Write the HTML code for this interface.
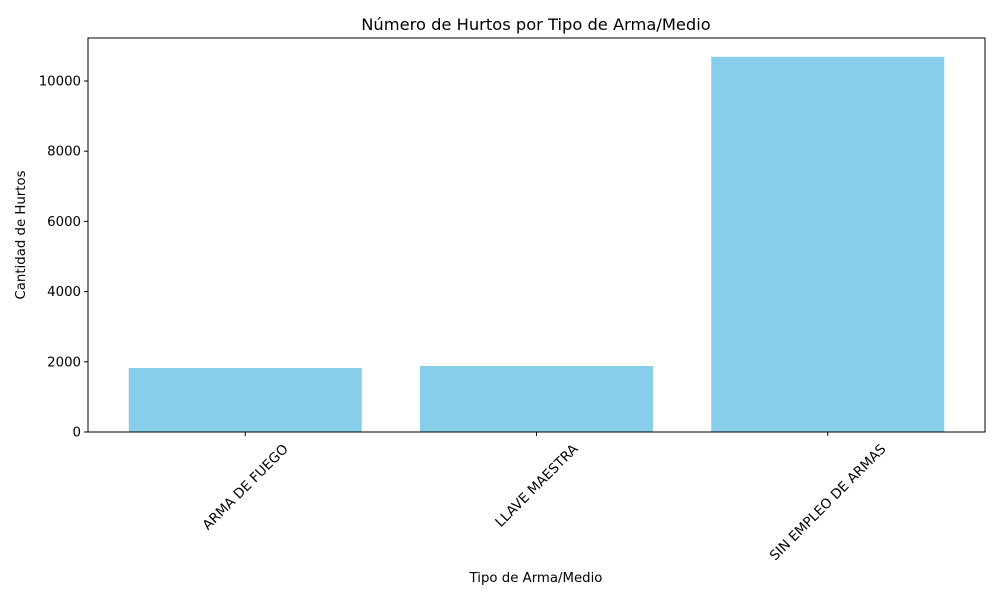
<!DOCTYPE html>
<html><head><meta charset="utf-8"><style>
body{margin:0;background:#fff;font-family:"Liberation Sans","DejaVu Sans",sans-serif;}
svg text{font-family:"DejaVu Sans","Liberation Sans",sans-serif;fill:#000;}
</style></head><body>
<svg id="chart" width="1000" height="600" xmlns="http://www.w3.org/2000/svg">
<rect width="1000" height="600" fill="#fff"/>
<text x="536" y="30" font-size="16.3" text-anchor="middle">Número de Hurtos por Tipo de Arma/Medio</text>
<g id="bars"></g><g id="xaxis"></g><g id="yaxis"></g>
<rect x="88" y="38" width="897" height="394" fill="none" stroke="#000" stroke-width="1"/>
<text x="536" y="582" font-size="13.3" text-anchor="middle">Tipo de Arma/Medio</text>
<text transform="translate(25,235) rotate(-90)" font-size="13.3" text-anchor="middle">Cantidad de Hurtos</text>
</svg>
<script>
const categories=["ARMA DE FUEGO","LLAVE MAESTRA","SIN EMPLEO DE ARMAS"];
const values=[1823,1880,10690];
const yTicks=[0,2000,4000,6000,8000,10000];
const NS="http://www.w3.org/2000/svg";
const L=88,R=985,T=38,B=432;
const ymax=Math.max(...values)*1.05;
const y=v=>B-(v/ymax)*(B-T);
const x0=-0.54,x1=categories.length-1+0.54;
const x=i=>L+(i-x0)/(x1-x0)*(R-L);
const bw=0.8*(R-L)/(x1-x0);
const mk=(t,a,p)=>{const e=document.createElementNS(NS,t);for(const k in a)e.setAttribute(k,a[k]);p.appendChild(e);return e;};
const gb=document.getElementById('bars'),gx=document.getElementById('xaxis'),gy=document.getElementById('yaxis');
values.forEach((v,i)=>{
 const r=mk('rect',{x:x(i)-bw/2,y:y(v),width:bw,height:B-y(v),fill:'#87ceeb'},gb);
 
 
});
categories.forEach((c,i)=>{
 const t=mk('line',{x1:x(i),x2:x(i),y1:B,y2:B+4,stroke:'#000'},gx);
 
 
 const lb=mk('text',{x:0,y:4.5,'font-size':13.5,'text-anchor':'middle'},gx);
 lb.textContent=c;
 
 
 const w=lb.getComputedTextLength();
 const h=(w+13)*Math.SQRT1_2;
 lb.setAttribute('transform',`translate(${x(i)},${B+10+h/2}) rotate(-45)`);
});
yTicks.forEach(v=>{
 const t=mk('line',{x1:L-4,x2:L,y1:y(v),y2:y(v),stroke:'#000'},gy);
 
 
 const lb=mk('text',{x:L-7,y:y(v)+4.5,'font-size':13.3,'text-anchor':'end'},gy);
 lb.textContent=v;
 
 
});
</script>
</body></html>
